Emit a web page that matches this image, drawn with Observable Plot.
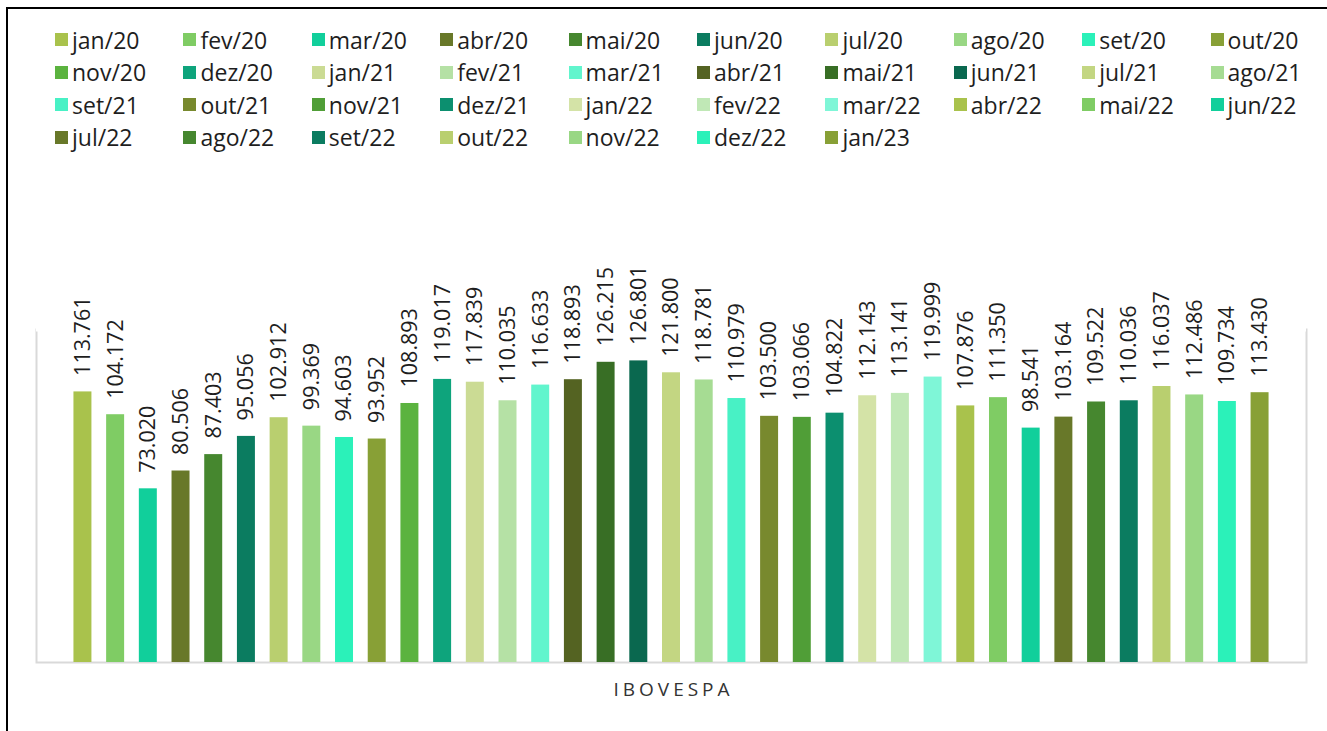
<!DOCTYPE html>
<html>
<head>
<meta charset="utf-8">
<script src="https://cdn.jsdelivr.net/npm/d3@7"></script>
<script src="https://cdn.jsdelivr.net/npm/@observablehq/plot@0.6"></script>
<style>
  html, body { margin: 0; padding: 0; background: #fff; overflow: hidden; }
  #page { position: relative; width: 1327px; height: 731px; overflow: hidden; font-family: "Open Sans", "Noto Sans", sans-serif; }
  #border { position: absolute; left: 6px; top: 7px; width: 3000px; height: 3000px; border-left: 2px solid #000; border-top: 2px solid #000; }
  #legend { position: relative; height: 160px; }
  .item { position: absolute; display: flex; align-items: center; height: 32px; font-size: 23px; color: #1e1e1e; white-space: nowrap; }
  .sw { width: 13px; height: 13px; margin-right: 4px; flex: none; }
  #chart svg { display: block; }
</style>
</head>
<body>
<div id="page">
  <div id="border"></div>
  <div id="legend"></div>
  <div id="chart"></div>
</div>
<script>
// Monthly IBOVESPA closing levels (points), Jan 2020 – Jan 2023
const months = [
  "jan/20", "fev/20", "mar/20", "abr/20", "mai/20", "jun/20", "jul/20", "ago/20", "set/20", "out/20",
  "nov/20", "dez/20", "jan/21", "fev/21", "mar/21", "abr/21", "mai/21", "jun/21", "jul/21", "ago/21",
  "set/21", "out/21", "nov/21", "dez/21", "jan/22", "fev/22", "mar/22", "abr/22", "mai/22", "jun/22",
  "jul/22", "ago/22", "set/22", "out/22", "nov/22", "dez/22", "jan/23"
];
const ibovespa = [
  113761, 104172, 73020, 80506, 87403, 95056, 102912, 99369, 94603, 93952,
  108893, 119017, 117839, 110035, 116633, 118893, 126215, 126801, 121800, 118781,
  110979, 103500, 103066, 104822, 112143, 113141, 119999, 107876, 111350, 98541,
  103164, 109522, 110036, 116037, 112486, 109734, 113430
];
// Series palette (27 shades, then cycles)
const palette = [
  "#a9c24c", "#7fcc64", "#11cf9b", "#687829", "#46872f", "#0b7c60", "#b9cf6f", "#99d784", "#2bf1b9",
  "#88a036", "#5bb33f", "#0ea47c", "#cbdb94", "#b5e1a5", "#61f5cd", "#546322", "#386e25", "#0a684f",
  "#c3d682", "#a6dc93", "#48f1c5", "#78892e", "#509e37", "#0c8f6f", "#d4e3a7", "#c0e8b6", "#7ff6d7"
];
const colors = months.map((_, i) => palette[i % palette.length]);
const axisTitle = "IBOVESPA";

const data = months.map((m, i) => ({month: m, value: ibovespa[i]}));
const fmt = v => v.toLocaleString("pt-BR");

// Legend: 10 columns x 4 rows
const legend = document.getElementById("legend");
months.forEach((m, i) => {
  const col = i % 10, row = Math.floor(i / 10);
  const el = document.createElement("div");
  el.className = "item";
  el.style.left = (55 + col * 128.4) + "px";
  el.style.top = (39.5 + row * 32.5 - 16) + "px";
  const sw = document.createElement("span");
  sw.className = "sw";
  sw.style.background = colors[i];
  el.appendChild(sw);
  el.appendChild(document.createTextNode(m));
  legend.appendChild(el);
});

const chart = Plot.plot({
  width: 1327,
  height: 571,
  marginTop: 169,
  marginBottom: 69,
  marginLeft: 36,
  marginRight: 21,
  style: {fontFamily: "'Open Sans', 'Noto Sans', sans-serif", background: "transparent"},
  x: {domain: months, paddingInner: 0.45, paddingOuter: 1.145, round: false, axis: null},
  y: {domain: [0, 140000], axis: null},
  color: {type: "ordinal", domain: months, range: colors},
  marks: [
    Plot.frame({stroke: "#d9d9d9", strokeWidth: 2}),
    Plot.ruleY([140000], {stroke: "#fff", strokeWidth: 4}),
    Plot.barY(data, {x: "month", y: "value", fill: "month"}),
    Plot.text(data, {
      x: "month", y: "value", text: d => fmt(d.value),
      rotate: -90, textAnchor: "start", lineAnchor: "middle",
      dy: -16, fontSize: 21.5, fill: "#1e1e1e"
    }),
    Plot.text([axisTitle], {
      frameAnchor: "bottom", dy: 27, lineAnchor: "middle",
      fontSize: 19, fill: "#333"
    })
  ]
});
document.getElementById("chart").appendChild(chart);

// Wide tracking on the category title
d3.select(chart).selectAll("text")
  .filter(function () { return this.textContent === axisTitle; })
  .attr("letter-spacing", "4px")
  .attr("dx", "2");
</script>
</body>
</html>
